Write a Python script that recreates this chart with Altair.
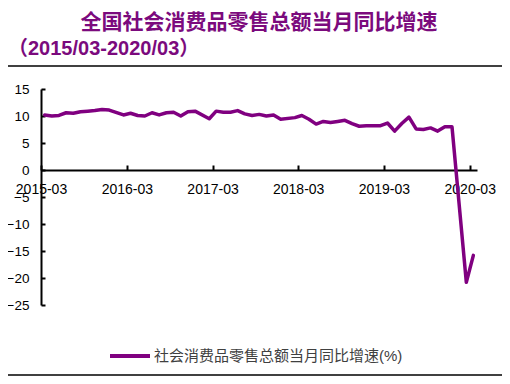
import altair as alt
import pandas as pd

# ---------------- data ----------------
months = [
    "2015-03", "2015-04", "2015-05", "2015-06", "2015-07", "2015-08", "2015-09", "2015-10", "2015-11", "2015-12",
    "2016-02", "2016-03", "2016-04", "2016-05", "2016-06", "2016-07", "2016-08", "2016-09", "2016-10", "2016-11", "2016-12",
    "2017-02", "2017-03", "2017-04", "2017-05", "2017-06", "2017-07", "2017-08", "2017-09", "2017-10", "2017-11", "2017-12",
    "2018-02", "2018-03", "2018-04", "2018-05", "2018-06", "2018-07", "2018-08", "2018-09", "2018-10", "2018-11", "2018-12",
    "2019-02", "2019-03", "2019-04", "2019-05", "2019-06", "2019-07", "2019-08", "2019-09", "2019-10", "2019-11", "2019-12",
    "2020-02", "2020-03",
]
values = [
    10.2, 10.0, 10.1, 10.6, 10.5, 10.8, 10.9, 11.0, 11.2, 11.1,
    10.2, 10.5, 10.1, 10.0, 10.6, 10.2, 10.6, 10.7, 10.0, 10.8, 10.9,
    9.5, 10.9, 10.7, 10.7, 11.0, 10.4, 10.1, 10.3, 10.0, 10.2, 9.4,
    9.7, 10.1, 9.4, 8.5, 9.0, 8.8, 9.0, 9.2, 8.6, 8.1, 8.2,
    8.2, 8.7, 7.2, 8.6, 9.8, 7.6, 7.5, 7.8, 7.2, 8.0, 8.0,
    -20.8, -15.8,
]
series_name = "社会消费品零售总额当月同比增速(%)"
title_line1 = "全国社会消费品零售总额当月同比增速"
title_line2 = "（2015/03-2020/03）"
tick_years = [2015, 2016, 2017, 2018, 2019, 2020]
y_ticks = [15, 10, 5, 0, -5, -10, -15, -20, -25]

# ---------------- layout ----------------
W, H = 436, 216
YMIN, YMAX = -25, 15
y_zero = H * YMAX / (YMAX - YMIN)
PURPLE = "#800080"
TITLE_PURPLE = "#7B0A7D"
FONT = "Liberation Sans, Noto Sans CJK SC"

df = pd.DataFrame({"date": pd.to_datetime(months), "value": values, "series": series_name})

x_enc = alt.X(
    "yearmonth(date):T",
    bandPosition=0.5,
    scale=alt.Scale(domain=[alt.DateTime(year=2015, month=3, date=1),
                            alt.DateTime(year=2020, month=4, date=1)]),
    axis=alt.Axis(
        orient="top", offset=-y_zero, title=None,
        values=[alt.DateTime(year=yr, month=3, date=1) for yr in tick_years],
        format="%Y-%m", grid=False,
        domainColor="black", domainWidth=2, tickColor="black", tickWidth=2, tickSize=5,
        labelPadding=-28, labelBaseline="alphabetic", labelFontSize=14, labelFont=FONT,
        labelColor="black", labelFlush=False, labelOverlap=False, labelBound=False,
    ),
)
y_enc = alt.Y(
    "value:Q",
    scale=alt.Scale(domain=[YMIN, YMAX], nice=False, zero=False),
    axis=alt.Axis(
        orient="right", offset=-W, title=None, values=y_ticks, grid=False,
        domainColor="black", domainWidth=2, tickColor="black", tickWidth=2, tickSize=4,
        labelPadding=-16, labelAlign="right", labelBaseline="middle",
        labelFontSize=13.5, labelFont=FONT, labelColor="black", labelFlush=False, labelOverlap=False,
    ),
)

line = alt.Chart(df).mark_line(strokeWidth=3.5, strokeJoin="round", strokeCap="round").encode(
    x=x_enc,
    y=y_enc,
    color=alt.Color(
        "series:N",
        scale=alt.Scale(range=[PURPLE]),
        legend=alt.Legend(
            orient="none", legendX=67, legendY=245, title=None, padding=0,
            symbolType="stroke", symbolStrokeWidth=4, symbolSize=1600,
            labelFontSize=15, labelFont=FONT, labelColor="#404040", labelLimit=0, labelOffset=2,
        ),
    ),
)

sub = alt.Chart(pd.DataFrame({"t": [title_line2]})).mark_text(
    align="left", baseline="middle", fontSize=20, fontWeight="bold", font=FONT, color=TITLE_PURPLE
).encode(text="t:N", x=alt.value(-33), y=alt.value(-40))

rule_top = alt.Chart(pd.DataFrame({"k": [0]})).mark_rule(color="black", strokeWidth=1.5).encode(
    x=alt.value(-41), x2=alt.value(469), y=alt.value(-23)
)
rule_bottom = alt.Chart(pd.DataFrame({"k": [0]})).mark_rule(color="black", strokeWidth=1.5).encode(
    x=alt.value(-41), x2=alt.value(469), y=alt.value(286)
)

chart = alt.layer(line, sub, rule_top, rule_bottom).properties(
    width=W, height=H,
    autosize=alt.AutoSizeParams(type="none"),
    padding={"left": 33, "top": 81, "right": 25, "bottom": 71},
    background="white",
    title=alt.TitleParams(
        text=title_line1, anchor="middle", frame="group", fontSize=21, fontWeight="bold",
        color=TITLE_PURPLE, font="Noto Sans CJK SC", offset=6,
    ),
).configure_view(stroke=None)

chart.save("out.html", embed_options={"renderer": "svg", "actions": False})
